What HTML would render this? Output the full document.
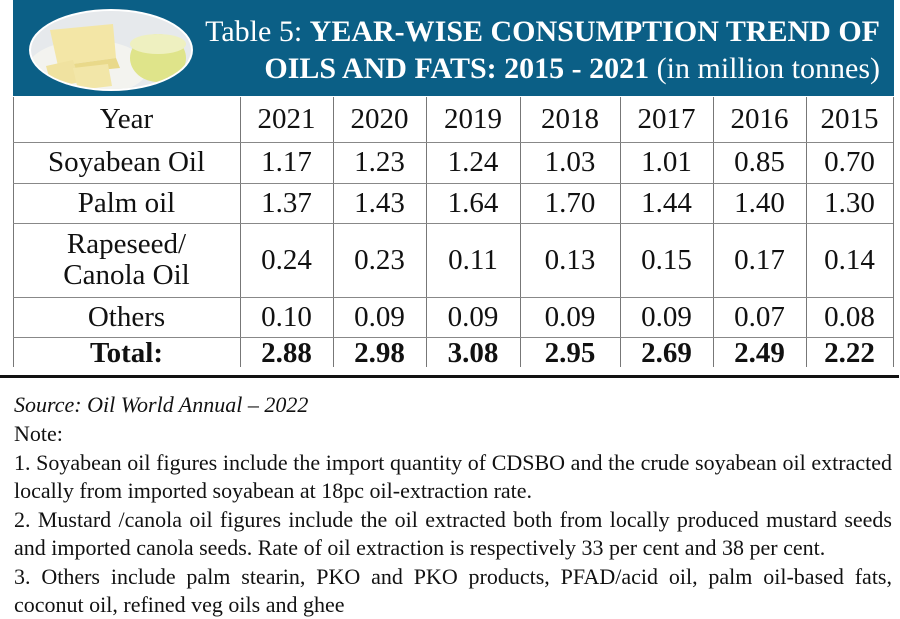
<!DOCTYPE html>
<html><head><meta charset="utf-8"><style>
body{margin:0;width:900px;height:619px;background:#fff;position:relative;overflow:hidden;font-family:"Liberation Serif",serif;color:#111}
.ban{position:absolute;left:13px;top:0;width:881px;height:96px;background:#0b5f86}
.t{position:absolute;right:20px;color:#fff;font-size:30px;white-space:nowrap;text-align:right}
.c{position:absolute;font-size:29px;text-align:center;display:flex;align-items:center;justify-content:center;line-height:31px}
.vl{position:absolute;width:1px;background:#777;top:97px;height:270px}
.hl{position:absolute;height:1px;background:#888;left:13px;width:880px}
.n{position:absolute;left:14px;width:878px;font-size:22px;line-height:28px;white-space:nowrap}
.j{text-align:justify;text-align-last:justify}
</style></head><body>
<div class="ban"></div>
<svg style="position:absolute;left:28px;top:8px" width="166" height="84">
<defs><clipPath id="cp"><ellipse cx="83" cy="42" rx="80" ry="39"/></clipPath></defs>
<ellipse cx="83" cy="42" rx="82" ry="41" fill="#fff"/>
<g clip-path="url(#cp)">
<rect width="166" height="84" fill="#e6e9ec"/>
<ellipse cx="60" cy="60" rx="60" ry="28" fill="#f3f3ef"/>
<polygon points="22,22 85,16 88,50 30,58" fill="#f3e6a6"/>
<polygon points="30,58 88,50 92,60 32,66" fill="#e9d98a"/>
<polygon points="18,58 45,52 52,74 24,80" fill="#f0e2a0"/>
<polygon points="45,60 80,56 84,78 50,82" fill="#f2e6a8"/>
<ellipse cx="130" cy="50" rx="28" ry="24" fill="#dfe48a"/>
<ellipse cx="130" cy="36" rx="28" ry="10" fill="#eef0c0"/>
</g></svg>
<div class="t" style="top:15px">Table 5: <b>YEAR-WISE CONSUMPTION TREND OF</b></div>
<div class="t" style="top:52px"><b>OILS AND FATS: 2015 - 2021</b> (in million tonnes)</div>

<div class="vl" style="left:13px"></div>
<div class="vl" style="left:240px"></div>
<div class="vl" style="left:333px"></div>
<div class="vl" style="left:426px"></div>
<div class="vl" style="left:520px"></div>
<div class="vl" style="left:620px"></div>
<div class="vl" style="left:713px"></div>
<div class="vl" style="left:806px"></div>
<div class="vl" style="left:893px"></div>
<div class="hl" style="top:142px"></div>
<div class="hl" style="top:183px"></div>
<div class="hl" style="top:223px"></div>
<div class="hl" style="top:297px"></div>
<div class="hl" style="top:337px"></div>
<div style="position:absolute;left:0;top:375px;width:899px;height:3px;background:#111"></div>

<div id="cells"></div>
<script>
var xs=[13,240,333,426,520,620,713,806,893];
var ys=[97,142,183,223,297,337,369];
var rows=[["Year","2021","2020","2019","2018","2017","2016","2015"],
["Soyabean Oil","1.17","1.23","1.24","1.03","1.01","0.85","0.70"],
["Palm oil","1.37","1.43","1.64","1.70","1.44","1.40","1.30"],
["Rapeseed/<br>Canola Oil","0.24","0.23","0.11","0.13","0.15","0.17","0.14"],
["Others","0.10","0.09","0.09","0.09","0.09","0.07","0.08"],
["<b>Total:</b>","<b>2.88</b>","<b>2.98</b>","<b>3.08</b>","<b>2.95</b>","<b>2.69</b>","<b>2.49</b>","<b>2.22</b>"]];
var h="";
for(var r=0;r<rows.length;r++)for(var c=0;c<8;c++){
h+='<div class="c" style="left:'+xs[c]+'px;top:'+ys[r]+'px;width:'+(xs[c+1]-xs[c])+'px;height:'+(ys[r+1]-ys[r])+'px">'+rows[r][c]+'</div>';}
document.getElementById("cells").innerHTML=h;
</script>

<div class="n" style="top:391px"><i>Source: Oil World Annual – 2022</i></div>
<div class="n" style="top:420px">Note:</div>
<div class="n j" style="top:449px">1. Soyabean oil figures include the import quantity of CDSBO and the crude soyabean oil extracted</div>
<div class="n" style="top:477px">locally from imported soyabean at 18pc oil-extraction rate.</div>
<div class="n j" style="top:506px">2. Mustard /canola oil figures include the oil extracted both from locally produced mustard seeds</div>
<div class="n" style="top:534px">and imported canola seeds. Rate of oil extraction is respectively 33 per cent and 38 per cent.</div>
<div class="n j" style="top:563px">3. Others include palm stearin, PKO and PKO products, PFAD/acid oil, palm oil-based fats,</div>
<div class="n" style="top:591px">coconut oil, refined veg oils and ghee</div>
</body></html>
